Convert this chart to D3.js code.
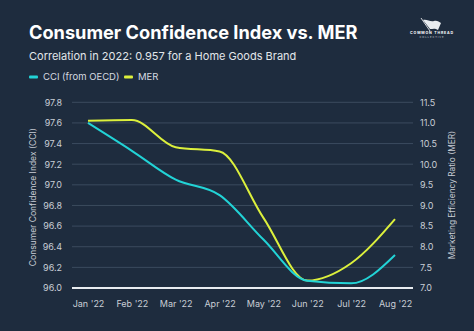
<!DOCTYPE html>
<html>
<head>
<meta charset="utf-8">
<script src="https://cdn.jsdelivr.net/npm/d3@7"></script>
<style>
  html, body { margin: 0; padding: 0; background: #1e2c3e; }
  svg { display: block; font-family: Inter, "Noto Sans", sans-serif; }
</style>
</head>
<body>
<div id="app"></div>
<script>
const width = 474,
      height = 331;

// data
const months = ["Jan '22", "Feb '22", "Mar '22", "Apr '22", "May '22", "Jun '22", "Jul '22", "Aug '22"];
const cci = [97.6, 97.33, 97.05, 96.9, 96.47, 96.07, 96.045, 96.32];
const mer = [11.05, 11.07, 10.41, 10.31, 8.7, 7.18, 7.6, 8.67];
const cciTicks = [96.0, 96.2, 96.4, 96.6, 96.8, 97.0, 97.2, 97.4, 97.6, 97.8];
const merTicks = [7.0, 7.5, 8.0, 8.5, 9.0, 9.5, 10.0, 10.5, 11.0, 11.5];

const cyan = "#22d3d6",
      yellow = "#dcf03c",
      bg = "#1e2c3e";

const plotLeft = 72, plotRight = 413, plotTop = 102.3, plotBottom = 288;

const svg = d3.select("#app").append("svg")
    .attr("width", width)
    .attr("height", height);

svg.append("rect").attr("width", width).attr("height", height).attr("fill", bg);

const x = d3.scalePoint().domain(months).range([88, 395]);
const yL = d3.scaleLinear().domain([96.0, 97.8]).range([plotBottom, plotTop]);
const yR = d3.scaleLinear().domain([7.0, 11.5]).range([plotBottom, plotTop]);

// gridlines
svg.append("g")
  .selectAll("line")
  .data(cciTicks.slice(1))
  .join("line")
    .attr("x1", plotLeft).attr("x2", plotRight)
    .attr("y1", d => yL(d)).attr("y2", d => yL(d))
    .attr("stroke", "#3b4b5e")
    .attr("stroke-width", 1);

// axes, no domain lines
const leftAxis = svg.append("g")
    .attr("transform", `translate(${plotLeft},0)`)
    .call(d3.axisLeft(yL).tickValues(cciTicks).tickFormat(d3.format(".1f")).tickSize(0).tickPadding(10));
leftAxis.select(".domain").remove();

const rightAxis = svg.append("g")
    .attr("transform", `translate(${plotRight},0)`)
    .call(d3.axisRight(yR).tickValues(merTicks).tickFormat(d3.format(".1f")).tickSize(0).tickPadding(7));
rightAxis.select(".domain").remove();

const bottomAxis = svg.append("g")
    .attr("transform", `translate(0,${plotBottom})`)
    .call(d3.axisBottom(x).tickSize(0).tickPadding(13));
bottomAxis.select(".domain").remove();

svg.selectAll(".tick text")
    .attr("fill", "#c9ced6")
    .attr("font-size", 9)
    .attr("font-family", "Inter, sans-serif");

// baseline
svg.append("line")
    .attr("x1", plotLeft).attr("x2", plotRight)
    .attr("y1", plotBottom).attr("y2", plotBottom)
    .attr("stroke", "#e8ecf0")
    .attr("stroke-width", 1.8);

// lines
const lineCci = d3.line()
    .x((d, i) => x(months[i]))
    .y(d => yL(d))
    .curve(d3.curveMonotoneX);
const lineMer = d3.line()
    .x((d, i) => x(months[i]))
    .y(d => yR(d))
    .curve(d3.curveMonotoneX);

svg.append("path")
    .attr("d", lineMer(mer))
    .attr("fill", "none")
    .attr("stroke", yellow)
    .attr("stroke-width", 2);

svg.append("path")
    .attr("d", lineCci(cci))
    .attr("fill", "none")
    .attr("stroke", cyan)
    .attr("stroke-width", 2);

// axis titles
svg.append("text")
    .attr("transform", `translate(36,${(plotTop + plotBottom) / 2 + 2}) rotate(-90)`)
    .attr("text-anchor", "middle")
    .attr("fill", "#c9ced6")
    .attr("font-size", 8.5)
    .text("Consumer Confidence Index (CCI)");

svg.append("text")
    .attr("transform", `translate(455,${(plotTop + plotBottom) / 2}) rotate(-90)`)
    .attr("text-anchor", "middle")
    .attr("fill", "#c9ced6")
    .attr("font-size", 8.3)
    .text("Marketing Efficiency Ratio (MER)");

// title block
svg.append("text")
    .attr("x", 29).attr("y", 39)
    .attr("fill", "#ffffff")
    .attr("font-size", 18.2)
    .attr("font-weight", 700)
    .text("Consumer Confidence Index vs. MER");

svg.append("text")
    .attr("x", 29).attr("y", 59.5)
    .attr("fill", "#e2e6ea")
    .attr("font-size", 11)
    .text("Correlation in 2022: 0.957 for a Home Goods Brand");

// legend
const legend = [{name: "CCI (from OECD)", color: cyan, x: 29}, {name: "MER", color: yellow, x: 124}];
const lg = svg.append("g").selectAll("g").data(legend).join("g")
    .attr("transform", d => `translate(${d.x},77)`);
lg.append("rect")
    .attr("x", 0).attr("y", -1.5).attr("width", 9).attr("height", 3).attr("rx", 1)
    .attr("fill", d => d.color);
lg.append("text")
    .attr("x", 14).attr("y", 3.3)
    .attr("fill", "#d6dbe1")
    .attr("font-size", 9.5)
    .text(d => d.name);

// logo
const logo = svg.append("g").attr("transform", "translate(432,28)");
logo.append("line").attr("x1", -11).attr("y1", -10).attr("x2", -2).attr("y2", 3)
    .attr("stroke", "#ffffff").attr("stroke-width", 0.8);
logo.append("path")
    .attr("d", "M-9,-8 C-5,-9 -2,-6 2,-7 C5,-8 7,-6 9,-5 L6,2 C3,0 1,1 -2,1 Z")
    .attr("fill", "#e8ecf0");
logo.append("text").attr("x", 0).attr("y", 5.5).attr("text-anchor", "middle")
    .attr("fill", "#ffffff").attr("font-size", 3.6).attr("font-weight", 700)
    .attr("letter-spacing", 0.8)
    .text("COMMON THREAD");
logo.append("text").attr("x", 0).attr("y", 10).attr("text-anchor", "middle")
    .attr("fill", "#c9ced6").attr("font-size", 2.6)
    .attr("letter-spacing", 0.9)
    .text("COLLECTIVE");
</script>
</body>
</html>
